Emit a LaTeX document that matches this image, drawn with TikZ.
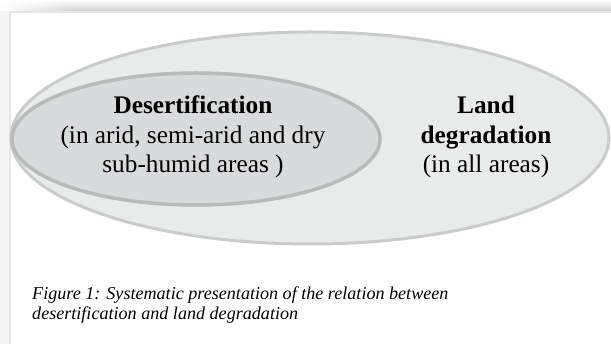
\documentclass[tikz,border=0pt]{standalone}
\usepackage{fontspec}
\setmainfont{Liberation Serif}
\usetikzlibrary{fadings}
\definecolor{outerfill}{HTML}{E9EAEA}
\definecolor{outerline}{HTML}{CACBCB}
\definecolor{innerfill}{HTML}{D9DADB}
\definecolor{innerline}{HTML}{B9BABA}
\definecolor{frameline}{HTML}{E6E6E6}
\tikzfading[name=fadeleft, left color=transparent!0, right color=transparent!100]
\tikzset{
  label text/.style={align=center, font=\fontsize{25.3}{29.5}\selectfont, inner sep=0pt},
  caption text/.style={align=left, font=\fontsize{18.1}{20.5}\selectfont\itshape, inner sep=0pt, anchor=west}
}

\begin{document}
\begin{tikzpicture}[x=1pt, y=-1pt]
		%%%%% START %%%%%
		\useasboundingbox (0, 0) rectangle (611, 344);
		
		% frame and shadow
		\fill[white] (0, 0) rectangle (611, 344);
		\fill[black!4] (0, 11) rectangle (9, 344);
		\shade[top color=white, bottom color=black!17] (0, 0) rectangle (611, 11);
		\fill[white, path fading=fadeleft] (0, 0) rectangle (70, 11);
		\draw[line width=2.5pt, color=frameline] (10.2, 344.5) -- (10.2, 12.2) -- (612, 12.2);
		
		% ellipses
		\draw[line width=3pt, color=outerline, fill=outerfill] (310, 138) ellipse (299 and 106);
		\draw[line width=3.5pt, color=innerline, fill=innerfill] (196, 139) ellipse (184 and 66);
		
		% texts
		\node[label text] (desert) at (193, 137) {\textbf{Desertification}\\(in arid, semi-arid and dry\\sub-humid areas )};
		\node[label text] (land) at (486, 137) {\textbf{Land}\\\textbf{degradation}\\(in all areas)};
		
		\node[caption text] (caption) at (32, 305) {Figure 1: Systematic presentation of the relation between\\desertification and land degradation};
		%%%%% END %%%%%
	\end{tikzpicture}
\end{document}
